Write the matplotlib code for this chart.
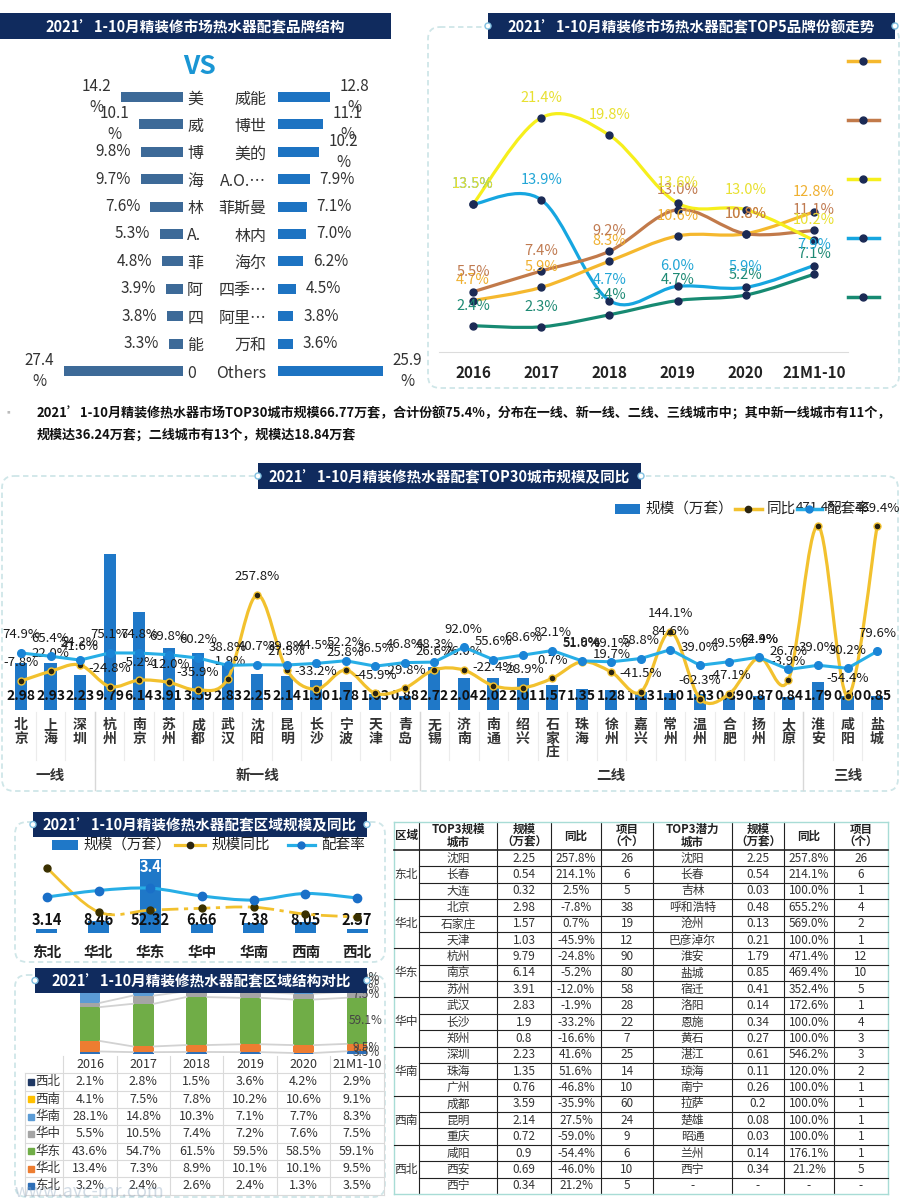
import numpy as np
import matplotlib
matplotlib.use('Agg')
import matplotlib.pyplot as plt
import matplotlib.transforms as mtransforms
from matplotlib.patches import Rectangle, FancyBboxPatch, Circle, PathPatch
from matplotlib.path import Path
from matplotlib.lines import Line2D

plt.rcParams['font.family'] = ['Noto Sans CJK SC', 'DejaVu Sans']
plt.rcParams['axes.unicode_minus'] = False

#%% data
# brand structure (top left)
brands_l = ['美', '威', '博', '海', '林', 'A.', '菲', '阿', '四', '能', '0']
share_l = [14.2, 10.1, 9.8, 9.7, 7.6, 5.3, 4.8, 3.9, 3.8, 3.3, 27.4]
brands_r = ['威能', '博世', '美的', 'A.O.…', '菲斯曼', '林内', '海尔', '四季…', '阿里…', '万和', 'Others']
share_r = [12.8, 11.1, 10.2, 7.9, 7.1, 7.0, 6.2, 4.5, 3.8, 3.6, 25.9]

# top5 trend (top right)
years = ['2016', '2017', '2018', '2019', '2020', '21M1-10']
s_yellow = [13.5, 21.4, 19.8, 13.6, 13.0, 10.2]
s_brown = [5.5, 7.4, 9.2, 13.0, 10.8, 11.1]
s_orange = [4.7, 5.9, 8.3, 10.6, 10.8, 12.8]
s_blue = [13.5, 13.9, 4.7, 6.0, 5.9, 7.9]
s_teal = [2.4, 2.3, 3.4, 4.7, 5.2, 7.1]

# top30 cities
cities = ['北京', '上海', '深圳', '杭州', '南京', '苏州', '成都', '武汉', '沈阳', '昆明',
          '长沙', '宁波', '天津', '青岛', '无锡', '济南', '南通', '绍兴', '石家庄', '珠海',
          '徐州', '嘉兴', '常州', '温州', '合肥', '扬州', '太原', '淮安', '咸阳', '盐城']
city_scale = [2.98, 2.93, 2.23, 9.79, 6.14, 3.91, 3.59, 2.83, 2.25, 2.14,
              1.90, 1.78, 1.03, 0.88, 2.72, 2.04, 2.02, 2.01, 1.57, 1.35,
              1.28, 1.13, 1.10, 1.03, 0.89, 0.87, 0.84, 1.79, 0.90, 0.85]
city_yoy = [-7.8, 22.0, 41.6, -24.8, -5.2, -12.0, -35.9, -1.9, 257.8, 27.5,
            -33.2, 25.8, -45.9, -29.8, 26.6, 26.0, -22.4, -28.9, 0.7, 51.6,
            19.7, -41.5, 144.1, -62.3, -47.1, 64.4, -3.9, 471.4, -54.4, 469.4]
city_rate = [74.9, 65.4, 54.2, 75.1, 74.8, 69.8, 60.2, 38.8, 40.7, 39.8,
             44.5, 52.2, 36.5, 46.8, 48.3, 92.0, 55.6, 68.6, 82.1, 51.9,
             49.1, 58.8, 84.6, 39.0, 49.5, 62.9, 26.7, 39.0, 30.2, 79.6]
tiers = ['一线', '新一线', '二线', '三线']
tier_sizes = [3, 11, 13, 3]

# regions
regions = ['东北', '华北', '华东', '华中', '华南', '西南', '西北']
reg_scale = [3.14, 8.46, 52.32, 6.66, 7.38, 8.05, 2.57]
reg_yoy = [116.3, -15.2, -9.6, -4.1, -1.0, -21.5, -30.4]
reg_rate = [56.0, 62.5, 64.8, 57.0, 53.0, 59.5, 55.0]

# region structure by year
sh_dongbei = [3.2, 2.4, 2.6, 2.4, 1.3, 3.5]
sh_huabei = [13.4, 7.3, 8.9, 10.1, 10.1, 9.5]
sh_huadong = [43.6, 54.7, 61.5, 59.5, 58.5, 59.1]
sh_huazhong = [5.5, 10.5, 7.4, 7.2, 7.6, 7.5]
sh_huanan = [28.1, 14.8, 10.3, 7.1, 7.7, 8.3]
sh_xinan = [4.1, 7.5, 7.8, 10.2, 10.6, 9.1]
sh_xibei = [2.1, 2.8, 1.5, 3.6, 4.2, 2.9]

# table (right bottom)
tab_region = ['东北', '华北', '华东', '华中', '华南', '西南', '西北']
tab_city = ['沈阳', '长春', '大连', '北京', '石家庄', '天津', '杭州', '南京', '苏州', '武汉', '长沙', '郑州',
            '深圳', '珠海', '广州', '成都', '昆明', '重庆', '咸阳', '西安', '西宁']
tab_scale = ['2.25', '0.54', '0.32', '2.98', '1.57', '1.03', '9.79', '6.14', '3.91', '2.83', '1.9', '0.8',
             '2.23', '1.35', '0.76', '3.59', '2.14', '0.72', '0.9', '0.69', '0.34']
tab_yoy = ['257.8%', '214.1%', '2.5%', '-7.8%', '0.7%', '-45.9%', '-24.8%', '-5.2%', '-12.0%', '-1.9%',
           '-33.2%', '-16.6%', '41.6%', '51.6%', '-46.8%', '-35.9%', '27.5%', '-59.0%', '-54.4%', '-46.0%', '21.2%']
tab_proj = ['26', '6', '5', '38', '19', '12', '90', '80', '58', '28', '22', '7', '25', '14', '10', '60', '24', '9',
            '6', '10', '5']
pot_city = ['沈阳', '长春', '吉林', '呼和浩特', '沧州', '巴彦淖尔', '淮安', '盐城', '宿迁', '洛阳', '恩施', '黄石',
            '湛江', '琼海', '南宁', '拉萨', '楚雄', '昭通', '兰州', '西宁', '-']
pot_scale = ['2.25', '0.54', '0.03', '0.48', '0.13', '0.21', '1.79', '0.85', '0.41', '0.14', '0.34', '0.27',
             '0.61', '0.11', '0.26', '0.2', '0.08', '0.03', '0.14', '0.34', '-']
pot_yoy = ['257.8%', '214.1%', '100.0%', '655.2%', '569.0%', '100.0%', '471.4%', '469.4%', '352.4%', '172.6%',
           '100.0%', '100.0%', '546.2%', '120.0%', '100.0%', '100.0%', '100.0%', '100.0%', '176.1%', '21.2%', '-']
pot_proj = ['26', '6', '1', '4', '2', '1', '12', '10', '5', '1', '4', '3', '3', '2', '1', '1', '1', '1', '1', '5', '-']

#%% helpers
W, H = 902, 1203
fig = plt.figure(figsize=(W / 100, H / 100), dpi=100)
navy = '#102b5e'
bar_blue = '#1f78c8'
gold = '#f2c12e'
sky = '#27aee6'


def px_axes(x0, y0, x1, y1, z=1):
    ax = fig.add_axes([x0 / W, 1 - y1 / H, (x1 - x0) / W, (y1 - y0) / H], zorder=z)
    ax.set_facecolor('none')
    return ax


def smooth_path(xs, ys):
    pts = np.column_stack([xs, ys]).astype(float)
    n = len(pts)
    verts = [pts[0]]
    codes = [Path.MOVETO]
    for i in range(n - 1):
        p0 = pts[i - 1] if i > 0 else pts[i]
        p1, p2 = pts[i], pts[i + 1]
        p3 = pts[i + 2] if i + 2 < n else pts[i + 1]
        verts += [p1 + (p2 - p0) / 6, p2 - (p3 - p1) / 6, p2]
        codes += [Path.CURVE4] * 3
    return verts, codes


def off(ax):
    for s in ax.spines.values():
        s.set_visible(False)
    ax.set_xticks([])
    ax.set_yticks([])


bg = px_axes(0, 0, W, H, z=0)
bg.set_xlim(0, W); bg.set_ylim(H, 0); bg.axis('off')
fg = px_axes(0, 0, W, H, z=20)
fg.set_xlim(0, W); fg.set_ylim(H, 0); fg.axis('off')


def title_bar(x0, y0, x1, y1, text, dots=True):
    fg.add_patch(Rectangle((x0, y0), x1 - x0, y1 - y0, fc=navy, ec='none'))
    fg.text((x0 + x1) / 2, (y0 + y1) / 2 + 1, text, color='white', fontsize=10.5,
            fontweight='bold', ha='center', va='center')
    if dots:
        for x in (x0, x1):
            fg.add_patch(Circle((x, (y0 + y1) / 2), 3, fc='white', ec='#7fbfe0', lw=1))


def panel_box(x0, y0, x1, y1):
    bg.add_patch(FancyBboxPatch((x0, y0), x1 - x0, y1 - y0,
                                boxstyle='round,pad=0,rounding_size=12',
                                fc='none', ec='#cfe6e8', lw=1.3, ls=(0, (3, 2))))


#%% panel 1: brand structure
title_bar(0, 13, 391, 39, '2021’1-10月精装修市场热水器配套品牌结构', dots=False)
fg.text(200, 67, 'VS', color='#1a96d4', fontsize=19, fontweight='bold', ha='center', va='center')

axl = px_axes(40, 83.3, 183, 384.7, z=2)
rows = np.arange(len(brands_l))
axl.barh(rows, share_l, height=0.36, color='#3d6a98')
axl.set_xlim(33, 0); axl.set_ylim(10.5, -0.5)
for s in axl.spines.values():
    s.set_visible(False)
axl.set_xticks([])
axl.yaxis.tick_right()
axl.set_yticks(rows)
axl.set_yticklabels(brands_l, fontsize=11.5, color='#333')
axl.tick_params(axis='y', length=0, pad=3)
for i, v in enumerate(share_l):
    s = f'{v:.1f}\n%' if v >= 10 else f'{v:.1f}%'
    axl.annotate(s, (v, i), xytext=(-7, 0), textcoords='offset points', ha='right', va='center',
                 multialignment='center', fontsize=11, color='#333', linespacing=1.3)

axr = px_axes(278, 83.3, 400, 384.7, z=2)
axr.barh(rows, share_r, height=0.36, color='#1d73c2')
axr.set_xlim(0, 30.1); axr.set_ylim(10.5, -0.5)
for s in axr.spines.values():
    s.set_visible(False)
axr.set_xticks([])
axr.set_yticks(rows)
axr.set_yticklabels(brands_r, fontsize=11.5, color='#333')
axr.tick_params(axis='y', length=0, pad=8.5)
for i, v in enumerate(share_r):
    s = f'{v:.1f}\n%' if v >= 10 else f'{v:.1f}%'
    axr.annotate(s, (v, i), xytext=(7, 0), textcoords='offset points', ha='left', va='center',
                 multialignment='center', fontsize=11, color='#333', linespacing=1.3)

#%% panel 2: top5 trend
panel_box(428, 27, 899, 388)
title_bar(488, 13, 895, 39, '2021’1-10月精装修市场热水器配套TOP5品牌份额走势')
ax2 = px_axes(439, 60, 848, 352, z=2)
ax2.set_xlim(-0.5, 5.5); ax2.set_ylim(0, 26.67)
for k in ['top', 'right', 'left']:
    ax2.spines[k].set_visible(False)
ax2.spines['bottom'].set_color('#dcdcdc')
ax2.set_yticks([])
xs = np.arange(len(years))
ax2.set_xticks(xs)
ax2.set_xticklabels(years, fontsize=11, fontweight='bold', color='#222')
ax2.tick_params(axis='x', length=0, pad=9)
series2 = [(s_teal, '#178a72', '#1e8a74'), (s_blue, '#16a6e0', '#22a6d6'),
           (s_orange, '#f5b82e', '#efb030'), (s_brown, '#c27a4a', '#c07a50'),
           (s_yellow, '#f6ef1c', '#e8e030')]
for vals, lc, tc in series2:
    v, c = smooth_path(xs, vals)
    ax2.add_patch(PathPatch(Path(v, c), fill=False, ec=lc, lw=2.3, capstyle='round', zorder=2))
    ax2.plot(xs, vals, 'o', ms=5, color='#1b2a55', zorder=3)
    for x, val in zip(xs, vals):
        ax2.annotate(f'{val:.1f}%', (x, val), xytext=(0, 14.5), textcoords='offset points',
                     ha='center', va='center', fontsize=10.5, color=tc, zorder=4)
for y, col in zip([61, 120, 179, 238, 297], ['#f5b82e', '#c27a4a', '#f6ef1c', '#16a6e0', '#178a72']):
    fg.add_line(Line2D([848, 879], [y, y], color=col, lw=2.5))
    fg.plot([863], [y], 'o', ms=5, color='#1b2a55')

#%% summary text
fg.text(8, 412, '▪', fontsize=7, color='#bbbbbb', ha='center', va='center')
fg.text(37, 413, '2021’1-10月精装修热水器市场TOP30城市规模66.77万套，合计份额75.4%，分布在一线、新一线、二线、三线城市中；其中新一线城市有11个，',
        fontsize=9.4, fontweight='bold', color='#111', va='center')
fg.text(37, 435, '规模达36.24万套；二线城市有13个，规模达18.84万套',
        fontsize=9.4, fontweight='bold', color='#111', va='center')

#%% panel 3: top30 cities
panel_box(2, 476, 898, 791)
title_bar(258, 463, 641, 489, '2021’1-10月精装修热水器配套TOP30城市规模及同比')
rect3 = (6.24, 500, 891.8, 710)
ax3 = px_axes(*rect3, z=2)
ci = np.arange(len(cities))
ax3.bar(ci, city_scale, width=0.41, color=bar_blue)
ax3.set_xlim(-0.5, 29.5); ax3.set_ylim(0, 13.2)
for s in ax3.spines.values():
    s.set_visible(False)
ax3.set_yticks([])
ax3.set_xticks(ci)
ax3.set_xticklabels(['\n'.join(c) for c in cities], fontsize=10, fontweight='bold', color='#333',
                    linespacing=0.95, va='top')
ax3.tick_params(axis='x', length=0, pad=6)
for i, v in enumerate(city_scale):
    ax3.text(i, 0.88, f'{v:.2f}', ha='center', va='center', fontsize=10, fontweight='bold', color='#111')
tr3 = mtransforms.blended_transform_factory(ax3.transData, ax3.transAxes)
for i in range(len(cities) - 1):
    ax3.plot([i + 0.5, i + 0.5], [-0.01, -0.24], color='#ececec', lw=0.8, transform=tr3, clip_on=False)
start = 0
for t, n in zip(tiers, tier_sizes):
    ax3.text(start + (n - 1) / 2, -0.31, t, ha='center', va='center', fontsize=10.5, fontweight='bold',
             color='#333', transform=tr3)
    if start > 0:
        ax3.plot([start - 0.5, start - 0.5], [-0.01, -0.38], color='#d8d8d8', lw=1, transform=tr3,
                 clip_on=False)
    start += n

ax3y = px_axes(*rect3, z=3)
ax3y.set_xlim(-0.5, 29.5); ax3y.set_ylim(-97.3, 550.8); off(ax3y)
v, c = smooth_path(ci, city_yoy)
ax3y.add_patch(PathPatch(Path(v, c), fill=False, ec=gold, lw=2.3, capstyle='round'))
ax3y.plot(ci, city_yoy, 'o', ms=5, mfc='#2a2410', mec=gold, mew=1)
ax3r = px_axes(*rect3, z=4)
ax3r.set_xlim(-0.5, 29.5); ax3r.set_ylim(-91.8, 522.3); off(ax3r)
ax3r.plot(ci, city_rate, '-o', color=sky, lw=2.2, ms=5.5, mfc='#1a84d6', mec='#1a84d6')
for i in ci:
    ax3y.annotate(f'{city_yoy[i]:.1f}%', (i, city_yoy[i]), xytext=(0, 13), textcoords='offset points',
                  ha='center', va='center', fontsize=9.5, color='#1a1a1a')
    ax3r.annotate(f'{city_rate[i]:.1f}%', (i, city_rate[i]), xytext=(0, 13), textcoords='offset points',
                  ha='center', va='center', fontsize=9.5, color='#1a1a1a')
# legend
fg.add_patch(Rectangle((615, 504), 25, 10, fc=bar_blue, ec='none'))
fg.text(645, 509, '规模（万套）', fontsize=10.5, color='#222', va='center')
fg.add_line(Line2D([735, 762], [509, 509], color=gold, lw=2.5))
fg.plot([748], [509], 'o', ms=4.5, color='#2a2410')
fg.text(767, 509, '同比', fontsize=10.5, color='#222', va='center')
fg.add_line(Line2D([797, 822], [509, 509], color=sky, lw=2.5))
fg.plot([809], [509], 'o', ms=5, color='#1a84d6')
fg.text(826, 509, '配套率', fontsize=10.5, color='#222', va='center')

#%% panel 4: regions
panel_box(15, 822, 385, 962)
title_bar(33, 812, 367, 837, '2021’1-10月精装修热水器配套区域规模及同比')
rect4 = (21, 850, 383, 933)
ax4 = px_axes(*rect4, z=2)
ri = np.arange(len(regions))
ax4.bar(ri, reg_scale, width=0.41, color=bar_blue)
ax4.set_xlim(-0.5, 6.5); ax4.set_ylim(0, 58.7)
for s in ax4.spines.values():
    s.set_visible(False)
ax4.set_yticks([])
ax4.set_xticks(ri)
ax4.set_xticklabels(regions, fontsize=10.5, fontweight='bold', color='#222')
ax4.tick_params(axis='x', length=0, pad=8)
for i, v in enumerate(reg_scale):
    ax4.text(i, 9.2, f'{v:.2f}', ha='center', va='center', fontsize=10.5, fontweight='bold', color='#111')
ax4.text(2, 46.7, '3.4', ha='center', va='center', fontsize=10.5, fontweight='bold', color='white')
ax4y = px_axes(*rect4, z=3)
ax4y.set_xlim(-0.5, 6.5); ax4y.set_ylim(-78.0, 170.1); off(ax4y)
v, c = smooth_path(ri, reg_yoy)
ax4y.add_patch(PathPatch(Path(v[:4], c[:4]), fill=False, ec=gold, lw=2))
ax4y.add_patch(PathPatch(Path(v[3:], [Path.MOVETO] + c[4:]), fill=False, ec=gold, lw=2,
                         ls=(0, (6, 2, 1.5, 2))))
ax4y.plot(ri, reg_yoy, 'o', ms=5, color='#3a3000')
ax4r = px_axes(*rect4, z=4)
ax4r.set_xlim(-0.5, 6.5); ax4r.set_ylim(20, 103); off(ax4r)
v, c = smooth_path(ri, reg_rate)
ax4r.add_patch(PathPatch(Path(v, c), fill=False, ec=sky, lw=2.2))
ax4r.plot(ri, reg_rate, 'o', ms=6, color='#1a6fc8')
fg.add_patch(Rectangle((52, 840), 26, 10, fc=bar_blue, ec='none'))
fg.text(83, 845, '规模（万套）', fontsize=10.5, color='#222', va='center')
fg.add_line(Line2D([175, 205], [845, 845], color=gold, lw=2.3))
fg.plot([190], [845], 'o', ms=4.5, color='#2a2410')
fg.text(211, 845, '规模同比', fontsize=10.5, color='#222', va='center')
fg.add_line(Line2D([288, 315], [845, 845], color=sky, lw=2.3))
fg.plot([301], [845], 'o', ms=5, color='#1a6fc8')
fg.text(321, 845, '配套率', fontsize=10.5, color='#222', va='center')

#%% panel 5: region structure
panel_box(15, 975, 385, 1197)
title_bar(35, 968, 367, 993, '2021’1-10月精装修热水器配套区域结构对比')
ax5 = px_axes(63.3, 975, 383.7, 1054, z=2)
ax5.set_xlim(-0.5, 5.5); ax5.set_ylim(0, 101.3); off(ax5)
yi = np.arange(len(years))
stack = [('东北', sh_dongbei, '#2e6fb7'), ('华北', sh_huabei, '#ed7d31'), ('华东', sh_huadong, '#70ad47'),
         ('华中', sh_huazhong, '#a5a5a5'), ('华南', sh_huanan, '#5b9bd5'), ('西南', sh_xinan, '#ffc000'),
         ('西北', sh_xibei, '#1f3864')]
bottom = np.zeros(len(years))
bw = 0.39
for name, vals, col in stack:
    vals = np.array(vals)
    ax5.bar(yi, vals, width=bw, bottom=bottom, color=col)
    top = bottom + vals
    for i in range(len(years) - 1):
        ax5.plot([i + bw / 2, i + 1 - bw / 2], [top[i], top[i + 1]], color='#d2d2d2', lw=1.3)
    ax5.text(5.17, bottom[-1] + vals[-1] / 2, f'{vals[-1]:.1f}%', ha='center', va='center',
             fontsize=8.5, color='#444')
    bottom = top

ax6 = px_axes(63.3, 1056, 383.7, 1194.5, z=2)
ax6.set_xlim(-0.5, 5.5); ax6.set_ylim(6.5, -1.5); off(ax6)
for i, y in enumerate(years):
    ax6.text(i, -1, y, ha='center', va='center', fontsize=9, color='#333')
for r, (name, vals, col) in enumerate(stack[::-1]):
    ax6.plot([-1.114], [r], 's', ms=4.5, color=col, clip_on=False)
    ax6.text(-1.03, r, name, ha='left', va='center', fontsize=9, color='#333')
    for i, val in enumerate(vals):
        ax6.text(i, r, f'{val:.1f}%', ha='center', va='center', fontsize=9, color='#333')
for k in range(7):
    ax6.plot([k - 0.5, k - 0.5], [-1.5, 6.5], color='#dadada', lw=0.8, clip_on=False)
for r in range(-1, 7):
    ax6.plot([-1.22, 5.5], [r + 0.5, r + 0.5], color='#dadada', lw=0.8, clip_on=False)
ax6.plot([-1.22, -1.22], [-0.5, 6.5], color='#dadada', lw=0.8, clip_on=False)
fg.text(15, 1192, 'www.avc-mr.com', fontsize=13, color='#8fa8c0', alpha=0.4, va='center')

#%% panel 6: table
cols = [394, 419, 497, 551, 601, 653, 732, 784, 834, 888]
ty0, ty1 = 822, 850
rh = (1194 - ty1) / len(tab_city)
heads = ['区域', 'TOP3规模\n城市', '规模\n（万套）', '同比', '项目\n（个）', 'TOP3潜力\n城市', '规模\n（万套）', '同比',
         '项目\n（个）']
for k, h in enumerate(heads):
    fg.text((cols[k] + cols[k + 1]) / 2, (ty0 + ty1) / 2, h, ha='center', va='center', fontsize=8.3,
            fontweight='bold', color='#222', linespacing=1.0)
table_cols = [tab_city, tab_scale, tab_yoy, tab_proj, pot_city, pot_scale, pot_yoy, pot_proj]
for r in range(len(tab_city)):
    yc = ty1 + rh * (r + 0.5)
    for k, colvals in enumerate(table_cols):
        fg.text((cols[k + 1] + cols[k + 2]) / 2, yc, colvals[r], ha='center', va='center', fontsize=8.5,
                color='#333')
for g, name in enumerate(tab_region):
    fg.text(406, ty1 + rh * (3 * g + 1.5), name, ha='center', va='center', fontsize=8.5, color='#333')
for x in cols[1:-1]:
    fg.add_line(Line2D([x, x], [ty0, 1194], color='#222', lw=0.8))
for x in (cols[0], cols[-1]):
    fg.add_line(Line2D([x, x], [ty0, 1194], color='#a8dcd6', lw=1))
fg.add_line(Line2D([cols[0], cols[-1]], [ty0, ty0], color='#a8dcd6', lw=1))
fg.add_line(Line2D([cols[0], cols[-1]], [1194, 1194], color='#a8dcd6', lw=1))
fg.add_line(Line2D([cols[0], cols[-1]], [ty1, ty1], color='#222', lw=1.2))
for r in range(1, len(tab_city)):
    y = ty1 + rh * r
    x0 = cols[0] if r % 3 == 0 else cols[1]
    fg.add_line(Line2D([x0, cols[-1]], [y, y], color='#222', lw=0.8))

fig.savefig('out.png', dpi=100)
